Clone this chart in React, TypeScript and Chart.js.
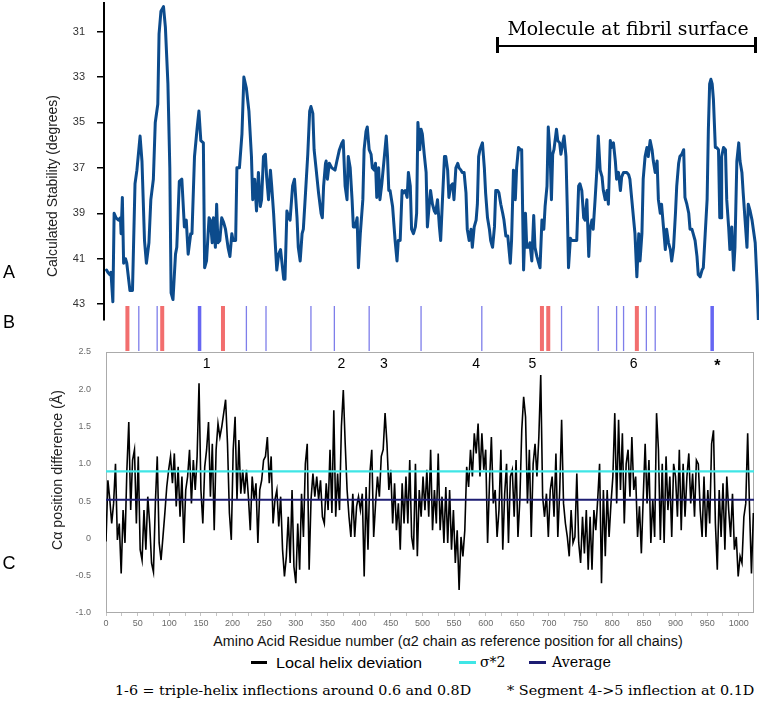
import React, { useEffect, useLayoutEffect, useRef } from 'react';
import { Chart, registerables } from 'chart.js';
Chart.register(...registerables);

// ---------- Panel A: calculated stability (degrees) ----------
const aResidue = [0,2,5,7,10,12,15,19,22,23,25,27,30,32,37,41,45,48,53,56,60,63,67,70,74,77,81,83,86,90,93,97,100,102,105,109,111,115,119,123,126,129,133,135,139,143,146,149,153,155,158,162,164,167,169,172,174,176,179,182,185,188,192,195,198,200,204,206,210,214,217,221,225,229,231,234,237,
240,243,245,248,251,253,256,259,261,264,269,272,275,280,282,285,288,290,294,297,301,303,306,309,311,314,318,321,323,326,328,331,335,339,341,343,346,347,349,352,356,361,364,368,372,374,377,380,382,385,388,390,393,396,398,401,405,407,410,412,415,418,420,423,425,427,430,432,435,438,442,444,446,448,452,456,459,461,464,467,469,472,475,477,480,482,485,488,490,492,495,497,499,502,505,507,510,512,515,518,520,523,526,528,531,534,536,539,541,544,547,549,552,555,557,560,562,565,568,570,573,576,578,581,584,586,588,590,594,597,599,602,605,607,610,613,615,618,620,623,626,628,631,634,636,638,
640,643,646,648,651,654,656,659,662,664,667,669,672,675,677,680,683,685,688,691,693,696,698,701,703,705,707,711,713,716,718,721,723,726,728,730,733,735,738,741,743,746,748,751,754,756,759,762,764,767,769,772,775,777,780,783,785,788,791,793,796,798,801,804,806,809,812,814,817,820,822,825,827,830,833,835,838,841,843,846,848,851,854,856,859,862,864,867,870,872,875,877,880,883,885,888,891,893,896,899,901,904,906,909,912,914,917,920,922,925,927,930,933,935,938,941,943,946,949,951,953,955,957,959,962,964,967,969,971,972,975,978,980,983,985,988,991,993,996,999,1001,1004,1006,1009,1012,1014,1017,1020,1022,1025,1028,1030];
const aStability = [41.5,41.6,41.7,41.6,42.9,39.0,39.2,39.3,39.2,39.9,38.3,41.2,41.0,41.2,42.4,42.4,37.7,37.1,35.6,36.7,40.2,41.2,40.3,38.4,37.5,35.0,34.2,31.1,30.1,29.9,30.8,33.3,37.0,42.5,42.8,40.8,40.5,37.6,37.5,39.6,39.3,40.8,39.9,39.9,36.5,35.3,34.5,35.8,35.9,41.4,41.1,39.2,39.3,40.3,39.2,40.5,38.6,40.3,40.2,39.2,39.4,39.7,40.5,40.9,39.9,40.2,40.2,37.0,37.0,35.5,33.0,33.5,34.5,36.5,38.4,37.5,38.9,
37.2,38.7,38.4,36.5,36.4,37.4,38.4,37.1,37.8,39.0,41.5,40.8,40.6,41.9,41.9,38.9,39.2,39.3,37.8,37.5,39.2,40.5,41.1,39.9,39.7,38.3,36.4,34.5,34.3,34.6,36.2,37.0,38.1,39.0,39.2,37.8,36.8,36.7,37.5,36.8,37.0,37.1,36.7,36.2,35.9,35.8,37.8,38.4,36.5,37.0,38.4,39.6,39.6,39.2,41.4,39.9,38.4,36.2,35.4,35.2,36.2,36.4,37.0,37.1,36.8,38.3,37.0,38.4,37.7,36.8,35.6,36.5,38.0,38.0,38.7,40.2,41.1,40.2,40.2,38.0,38.1,38.0,38.3,37.2,37.8,39.7,39.9,39.6,39.0,35.0,36.2,35.3,35.5,36.4,37.2,39.6,38.6,38.0,38.6,38.9,39.0,38.4,39.6,40.2,38.3,36.5,36.5,37.1,38.3,37.8,37.7,38.4,37.0,36.8,37.0,37.1,37.2,37.2,38.1,39.7,40.2,39.7,40.5,39.6,39.3,38.6,36.5,36.2,35.9,37.0,38.1,39.2,39.7,40.2,40.5,39.6,38.0,38.0,38.1,38.6,39.0,39.3,40.0,40.0,40.6,41.2,
40.2,37.1,38.4,37.0,36.1,36.2,36.2,41.5,39.0,40.5,40.5,40.3,41.1,39.1,40.5,40.9,41.2,41.4,39.3,39.7,38.7,37.8,35.2,36.4,38.4,36.4,36.2,35.3,35.8,35.9,36.4,35.9,35.6,36.5,38.7,41.4,40.1,40.2,40.2,40.2,40.2,37.8,37.7,38.0,39.2,39.3,38.4,40.9,39.7,39.3,39.7,38.4,37.0,35.6,37.1,37.4,38.0,38.4,38.0,38.6,35.8,36.1,35.9,36.7,37.5,37.2,38.0,37.4,37.2,37.2,37.2,37.3,37.5,38.4,39.3,39.9,41.8,39.9,41.1,39.9,37.5,36.5,36.1,36.5,35.8,36.2,36.7,37.2,36.7,38.4,39.0,38.6,39.6,40.6,39.7,40.3,40.6,41.1,40.5,39.0,37.8,36.8,36.5,36.4,36.2,38.3,38.6,39.0,39.7,39.7,39.9,40.2,40.9,41.7,41.8,41.5,41.4,39.9,38.4,35.3,33.3,33.1,33.3,34.0,36.1,36.1,36.2,39.2,39.2,36.5,36.1,36.2,38.4,39.6,40.6,39.6,41.5,40.5,36.7,35.9,36.7,37.2,38.1,39.3,40.5,38.6,38.9,39.3,39.7,40.3,42.1,43.7];
const aTicks = [31, 33, 35, 37, 39, 41, 43];

// ---------- Panel B: marked positions (residue numbers) ----------
const redMarks = [33, 88, 184, 688, 698, 838];
const blueThinMarks = [51, 80, 221, 252, 323, 360, 415, 497, 593, 719, 777, 806, 817, 853, 867];
const blueThickMarks = [147, 957];

// ---------- Panel C: C-alpha position difference (every 3rd residue) ----------
const cStep = 3;
const cDeviation = [
-0.04,0.78,0.52,0.20,0.47,1.0,-0.02,0.2,-0.47,0.38,
-0.06,0.92,1.56,0.38,1.05,1.19,0.2,1.1,-0.15,-0.29,
0.38,-0.15,0.56,0.2,-0.33,-0.45,0.47,1.1,-0.06,-0.29,
0.02,0.34,0.69,0.92,1.1,0.74,1.14,0.43,0.96,0.29,
0.83,-0.06,0.65,0.83,1.19,0.47,1.05,0.65,1.1,2.08,
0.65,0.2,0.96,1.19,1.56,0.56,1.27,0.11,1.19,1.54,
1.36,1.5,1.68,1.86,1.27,0.34,-0.02,1.19,1.63,0.52,
1.32,0.6,0.92,0.6,0.92,0.56,0.11,0.83,0.52,0.74,
-0.06,0.65,0.78,1.05,1.1,1.36,0.74,1.1,0.2,0.52,
0.65,0.16,0.56,-0.15,-0.51,-0.24,0.29,-0.33,0.65,-0.38,
-0.6,0.2,-0.42,0.6,0.02,1.0,1.27,-0.42,0.52,0.87,
0.56,0.83,0.52,
0.78,0.29,0.2,0.74,0.38,1.19,0.34,1.72,0.29,0.87,
0.38,1.5,1.99,1.27,0.65,0.29,0.02,0.6,0.02,0.43,
0.56,0.38,0.6,-0.51,0.69,-0.15,0.87,1.19,0.02,0.47,
0.83,0.56,1.1,1.19,1.68,1.27,0.65,0.92,0.2,0.74,
0.11,0.47,-0.15,0.74,0.2,0.83,0.2,1.05,0.02,-0.15,
1.0,-0.24,0.65,0.29,0.83,0.38,0.92,0.29,1.19,0.11,
0.65,0.2,1.14,0.11,0.56,-0.06,0.69,-0.06,0.65,-0.15,
0.38,-0.33,0.11,-0.69,0.02,-0.24,0.11,0.96,0.69,1.19,
0.83,1.41,1.14,1.54,0.83,1.41,0.92,1.19,-0.06,0.74,
1.36,0.47,0.65,0.02,0.38,1.19,-0.15,0.6,1.0,-0.06,
0.83,0.92,0.29,1.05,0.02,0.52,1.45,1.9,1.63,0.47,
1.19,0.02,1.0,1.27,0.83,
1.36,2.19,0.56,0.29,0.6,0.02,0.65,0.83,0.29,1.14,
0.02,0.65,1.59,0.47,0.2,0.02,-0.24,0.38,-0.06,0.02,
0.87,-0.06,-0.33,0.29,-0.2,0.38,-0.42,0.29,-0.42,0.38,
0.11,0.52,1.0,-0.6,0.65,-0.24,0.65,0.02,0.47,0.83,
1.68,0.47,1.59,0.65,1.41,0.2,1.0,1.19,0.56,1.36,
0.65,0.83,0.02,0.43,-0.2,0.56,1.27,0.47,1.05,-0.06,
0.52,0.02,1.68,1.19,-0.02,1.0,-0.06,1.1,0.38,0.83,
0.02,1.0,0.83,0.29,1.19,0.11,1.0,0.29,0.83,1.14,
0.47,0.87,0.29,1.05,1.0,0.38,0.02,0.83,0.02,0.65,
0.2,1.27,1.45,0.2,-0.42,0.65,0.02,0.74,-0.15,0.83,
0.38,0.02,0.6,-0.15,0.02,-0.51,-0.24,-0.33,0.29,0.47,
1.41,0.38,-0.47,0.34];
const sigma2 = 0.9;
const averageDev = 0.52;
const cYTicks = [-1, -0.5, 0, 0.5, 1, 1.5, 2, 2.5];
const cXTicks = [0,25,50,75,100,125,150,175,200,225,250,275,300,325,350,375,400,425,450,475,500,525,550,575,600,625,650,675,700,725,750,775,800,825,850,875,900,925,950,975,1000];
const inflectionLabels = ['1', '2', '3', '4', '5', '6', '*'];
const inflectionResidue = [159, 372, 439, 585, 674, 834, 966];

const SANS = "'Liberation Sans', Arial, Helvetica, sans-serif";
const SERIF = "'DejaVu Serif', 'Liberation Serif', serif";

type FitProps = { text: string; x: number; y: number; width?: number; font: string; size: number; color?: string; anchor?: 'left' | 'center'; rotate?: boolean };

function FitText({ text, x, y, width, font, size, color = '#000', anchor = 'center', rotate = false }: FitProps) {
  const ref = useRef<HTMLDivElement>(null);
  useLayoutEffect(() => {
    const el = ref.current;
    if (!el) return;
    const w = el.offsetWidth;
    const k = width && w ? width / w : 1;
    const tx = anchor === 'center' ? '-50%' : '0px';
    el.style.transformOrigin = anchor === 'center' ? '50% 50%' : '0 50%';
    el.style.transform = `translate(${tx},-50%)` + (rotate ? ' rotate(-90deg)' : '') + ` scaleX(${k})`;
  }, [text, width]);
  return (
    <div ref={ref} style={{ position: 'absolute', left: x, top: y, fontFamily: font, fontSize: size, lineHeight: 1, whiteSpace: 'nowrap', color }}>
      {text}
    </div>
  );
}

function Bar({ x1, x2, y, h, color }: { x1: number; x2: number; y: number; h: number; color: string }) {
  return <div style={{ position: 'absolute', left: x1, top: y - h / 2, width: x2 - x1, height: h, background: color }} />;
}

const noPad = (s: any) => { s.paddingTop = 0; s.paddingBottom = 0; s.paddingLeft = 0; s.paddingRight = 0; };

export default function App() {
  const aRef = useRef<HTMLCanvasElement>(null);
  const bRef = useRef<HTMLCanvasElement>(null);
  const cRef = useRef<HTMLCanvasElement>(null);

  useEffect(() => {
    Chart.defaults.font.family = SANS;
    const charts: Chart[] = [];

    charts.push(new Chart(aRef.current!, {
      type: 'line',
      data: {
        datasets: [{
          data: aResidue.map((r, i) => ({ x: r, y: aStability[i] })),
          borderColor: '#0c4b8c', borderWidth: 3, pointRadius: 0, tension: 0,
          borderJoinStyle: 'round', borderCapStyle: 'round',
        }],
      },
      options: {
        responsive: false, animation: false,
        layout: { autoPadding: false, padding: { top: 3, bottom: 10, left: 0, right: 3 } },
        plugins: { legend: { display: false }, tooltip: { enabled: false } },
        scales: {
          x: { type: 'linear', display: false, min: -4, max: 1031 },
          y: {
            type: 'linear', reverse: true, min: 29.74, max: 43.7,
            afterFit: (s: any) => { s.width = 104; noPad(s); },
            afterBuildTicks: (s: any) => { s.ticks = aTicks.map(v => ({ value: v })); },
            ticks: { color: '#333', font: { size: 11 }, padding: 12, autoSkip: false },
            grid: { drawOnChartArea: false, drawTicks: true, tickLength: 7, color: '#000', lineWidth: 1.5 },
            border: { display: true, color: '#000', width: 2 },
          },
        },
      } as any,
    }));

    const segs = (marks: number[]) => marks.flatMap(m => [{ x: m, y: 0 }, { x: m, y: 1 }, { x: m, y: null }]);
    charts.push(new Chart(bRef.current!, {
      type: 'line',
      data: {
        datasets: [
          { data: segs(blueThinMarks), borderColor: '#7e7eea', borderWidth: 1.3, pointRadius: 0, spanGaps: false, borderCapStyle: 'butt' },
          { data: segs(blueThickMarks), borderColor: '#6666f2', borderWidth: 3.5, pointRadius: 0, spanGaps: false, borderCapStyle: 'butt' },
          { data: segs(redMarks), borderColor: '#f26e6e', borderWidth: 4, pointRadius: 0, spanGaps: false, borderCapStyle: 'butt' },
        ] as any,
      },
      options: {
        responsive: false, animation: false,
        layout: { autoPadding: false, padding: { top: 6, bottom: 5, left: 104, right: 3 } },
        plugins: { legend: { display: false }, tooltip: { enabled: false } },
        scales: {
          x: { type: 'linear', display: false, min: -4, max: 1031 },
          y: { type: 'linear', display: false, min: 0, max: 1 },
        },
      } as any,
    }));

    const boxPlugin = {
      id: 'box',
      beforeDatasetsDraw(chart: any) {
        const { ctx, chartArea: a } = chart;
        ctx.save();
        ctx.strokeStyle = '#ababab';
        ctx.lineWidth = 1;
        ctx.strokeRect(Math.round(a.left) + 0.5, Math.round(a.top) + 0.5, Math.round(a.right - a.left) - 1, Math.round(a.bottom - a.top) - 1);
        ctx.restore();
      },
      afterDatasetsDraw(chart: any) {
        const { ctx, chartArea: a, scales } = chart;
        ctx.save();
        ctx.fillStyle = '#000';
        ctx.textAlign = 'center';
        ctx.textBaseline = 'middle';
        inflectionLabels.forEach((lab, i) => {
          const px = scales.x.getPixelForValue(inflectionResidue[i]);
          if (lab === '*') {
            ctx.font = `bold 16px ${SANS}`;
            ctx.fillText(lab, px, a.top + 15);
          } else {
            ctx.font = `14px ${SANS}`;
            ctx.fillText(lab, px, a.top + 12);
          }
        });
        ctx.restore();
      },
    };

    charts.push(new Chart(cRef.current!, {
      type: 'line',
      data: {
        datasets: [
          { data: [{ x: 0, y: averageDev }, { x: 1024, y: averageDev }], borderColor: '#1c1c72', borderWidth: 2, pointRadius: 0 },
          { data: [{ x: 0, y: sigma2 }, { x: 1024, y: sigma2 }], borderColor: '#3fe6e6', borderWidth: 2.2, pointRadius: 0 },
          {
            data: cDeviation.map((v, i) => ({ x: i * cStep, y: v })),
            borderColor: '#000', borderWidth: 1.6, pointRadius: 0, tension: 0, borderJoinStyle: 'miter',
          },
        ],
      },
      options: {
        responsive: false, animation: false,
        layout: { autoPadding: false, padding: { top: 12, bottom: 0, left: 0, right: 8 } },
        plugins: { legend: { display: false }, tooltip: { enabled: false } },
        scales: {
          x: {
            type: 'linear', min: 0, max: 1024,
            afterFit: (s: any) => { s.height = 17; noPad(s); },
            afterBuildTicks: (s: any) => { s.ticks = cXTicks.map(v => ({ value: v })); },
            ticks: { callback: (v: any) => (v % 50 === 0 ? String(v) : ''), color: '#6a6a6a', font: { size: 9 }, padding: 2, autoSkip: false, maxRotation: 0 },
            grid: { drawOnChartArea: false, drawTicks: true, tickLength: 3, color: '#c4c4c4' },
            border: { display: false },
          },
          y: {
            type: 'linear', min: -1, max: 2.5,
            afterFit: (s: any) => { s.width = 106; noPad(s); },
            afterBuildTicks: (s: any) => { s.ticks = cYTicks.map(v => ({ value: v })); },
            ticks: { color: '#6a6a6a', font: { size: 9 }, padding: 7, autoSkip: false },
            grid: { display: false },
            border: { display: false },
          },
        },
      } as any,
      plugins: [boxPlugin],
    }));

    return () => { charts.forEach(c => c.destroy()); };
  }, []);

  return (
    <div style={{ position: 'fixed', left: 0, top: 0, width: 762, height: 709, background: '#fff', overflow: 'hidden' }}>
      <canvas ref={aRef} width={762} height={330} style={{ position: 'absolute', left: 0, top: 0, display: 'block' }} />
      <canvas ref={cRef} width={762} height={290} style={{ position: 'absolute', left: 0, top: 340, display: 'block' }} />
      <canvas ref={bRef} width={762} height={56} style={{ position: 'absolute', left: 0, top: 300, display: 'block' }} />

      <FitText text="A" x={9} y={272} font={SANS} size={18} />
      <FitText text="B" x={9} y={322} font={SANS} size={18} />
      <FitText text="C" x={9} y={563} font={SANS} size={18} />

      <FitText text="Calculated Stability (degrees)" x={52} y={186} width={182} font={SANS} size={14} color="#222" rotate />
      <FitText text="Cα position difference (Å)" x={57} y={470} width={160} font={SANS} size={14} color="#222" rotate />

      <FitText text="Molecule at fibril surface" x={627.5} y={29} width={241} font={SERIF} size={18} />
      <Bar x1={497} x2={756} y={45.5} h={2} color="#000" />
      <Bar x1={496} x2={498.5} y={45} h={16} color="#000" />
      <Bar x1={754} x2={756.5} y={45} h={16} color="#000" />

      <FitText text="Amino Acid Residue number (α2 chain as reference position for all chains)" x={447.5} y={641} width={469} font={SANS} size={14} color="#111" />

      <Bar x1={251} x2={267} y={662} h={3} color="#000" />
      <FitText text="Local helix deviation" x={276} y={662} width={146} font={SANS} size={15} anchor="left" />
      <Bar x1={459} x2={476} y={662} h={3} color="#3fe6e6" />
      <FitText text="σ*2" x={480} y={662} width={25} font={SERIF} size={14} anchor="left" />
      <Bar x1={529} x2={546} y={662} h={3} color="#1c1c72" />
      <FitText text="Average" x={552} y={662} width={59} font={SERIF} size={14} anchor="left" />

      <FitText text="1-6 = triple-helix inflections around 0.6 and 0.8D" x={115} y={690} width={356} font={SERIF} size={13} anchor="left" />
      <FitText text="* Segment 4->5 inflection at 0.1D" x={507} y={690} width={247} font={SERIF} size={13} anchor="left" />
    </div>
  );
}
